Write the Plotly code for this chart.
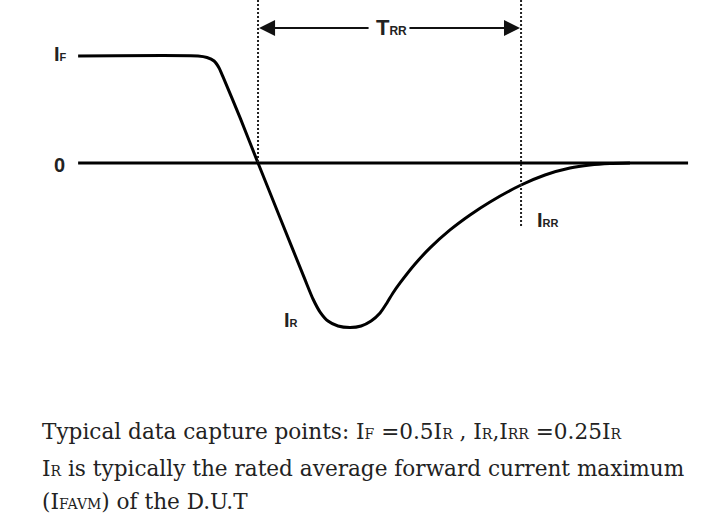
import plotly.graph_objects as go

# Reverse-recovery current waveform (time in arbitrary units, TRR = 10; current normalised to IF = 1)
time_pts = [-6.84, -2.28, -1.94, -1.67, -1.48, -1.33, -0.68, 0.0, 0.84, 1.79, 2.09, 2.36, 2.66, 3.04,
            3.50, 3.92, 4.30, 4.64, 4.90, 5.13, 5.40, 5.97, 6.54, 7.30, 8.06, 8.82, 10.0, 10.91,
            11.86, 12.62, 13.38, 14.14]
current_pts = [1.0, 1.0, 0.986, 0.953, 0.888, 0.804, 0.421, 0.0, -0.514, -1.093, -1.271, -1.393,
               -1.477, -1.523, -1.537, -1.523, -1.477, -1.402, -1.308, -1.215, -1.121, -0.944,
               -0.794, -0.626, -0.486, -0.364, -0.206, -0.112, -0.047, -0.019, -0.005, 0.0]

zero_line_t = [-6.84, 16.35]
zero_line_i = [0, 0]

trr_start = 0.0
trr_end = 10.0
irr_level = -0.59
top_level = 1.56
arrow_level = 1.262

X_RANGE = [-9.81, 17.26]
Y_RANGE = [-3.271, 1.523]

fig = go.Figure()

fig.add_trace(go.Scatter(x=zero_line_t, y=zero_line_i, mode="lines",
                         line=dict(color="black", width=3), hoverinfo="skip"))
fig.add_trace(go.Scatter(x=time_pts, y=current_pts, mode="lines",
                         line=dict(color="black", width=3, shape="spline", smoothing=0.6),
                         hoverinfo="skip"))
# dotted markers
fig.add_trace(go.Scatter(x=[trr_start, trr_start], y=[top_level, 0], mode="lines",
                         line=dict(color="#222", width=2, dash="2px,2px"), hoverinfo="skip"))
fig.add_trace(go.Scatter(x=[trr_end, trr_end], y=[top_level, irr_level], mode="lines",
                         line=dict(color="#222", width=2, dash="2px,2px"), hoverinfo="skip"))

# TRR arrows
for tail, head in [(4.26, trr_start + 0.04), (5.70, trr_end - 0.04)]:
    fig.add_annotation(x=head, y=arrow_level, ax=tail, ay=arrow_level, xref="x", yref="y",
                       axref="x", ayref="y", text="", showarrow=True, arrowhead=2,
                       arrowsize=1.6, arrowwidth=2, arrowcolor="#111")

lab_font = dict(family="Liberation Sans Narrow, Liberation Sans, Arial", size=20, color="#222")
def lab(main, sub, size=11):
    return f"<b>{main}<span style='font-size:{size}px'>{sub}</span></b>"

fig.add_annotation(x=-7.19, y=1.02, text=lab("I", "F"), showarrow=False, xanchor="right",
                   yanchor="middle", font=lab_font)
fig.add_annotation(x=-7.27, y=-0.02, text=lab("0", ""), showarrow=False, xanchor="right",
                   yanchor="middle", font=lab_font)
fig.add_annotation(x=0.92, y=-1.47, text=lab("I", "R"), showarrow=False, xanchor="left",
                   yanchor="middle", font=lab_font)
fig.add_annotation(x=10.53, y=-0.53, text=lab("I", "RR"), showarrow=False, xanchor="left",
                   yanchor="middle", font=lab_font)
fig.add_annotation(x=4.42, y=1.27, text=lab("T", "RR", 12), showarrow=False, xanchor="left",
                   yanchor="middle", font=dict(family=lab_font["family"], size=22, color="#222"))

body_font = dict(family="DejaVu Serif, serif", size=21.6, color="#222")
def s(t):
    return f"<span style='font-size:14px'>{t}</span>"

notes = [
    f"Typical data capture points: I{s('F')} =0.5I{s('R')} , I{s('R')},I{s('RR')} =0.25I{s('R')}",
    f"I{s('R')} is typically the rated average forward current maximum",
    f"(I{s('FAVM')}) of the D.U.T",
]
note_y = [0.158, 0.086, 0.023]
for txt, yy in zip(notes, note_y):
    fig.add_annotation(x=40 / 712, y=yy, xref="paper", yref="paper", text=txt, showarrow=False,
                       xanchor="left", yanchor="middle", font=body_font)

fig.update_layout(width=712, height=513, margin=dict(l=0, r=0, t=0, b=0),
                  paper_bgcolor="white", plot_bgcolor="white", showlegend=False,
                  xaxis=dict(range=X_RANGE, visible=False, fixedrange=True),
                  yaxis=dict(range=Y_RANGE, visible=False, fixedrange=True))

fig.write_html("out.html", config={"displayModeBar": False},
               post_script="document.body.style.margin='0';document.body.style.overflow='hidden';")
